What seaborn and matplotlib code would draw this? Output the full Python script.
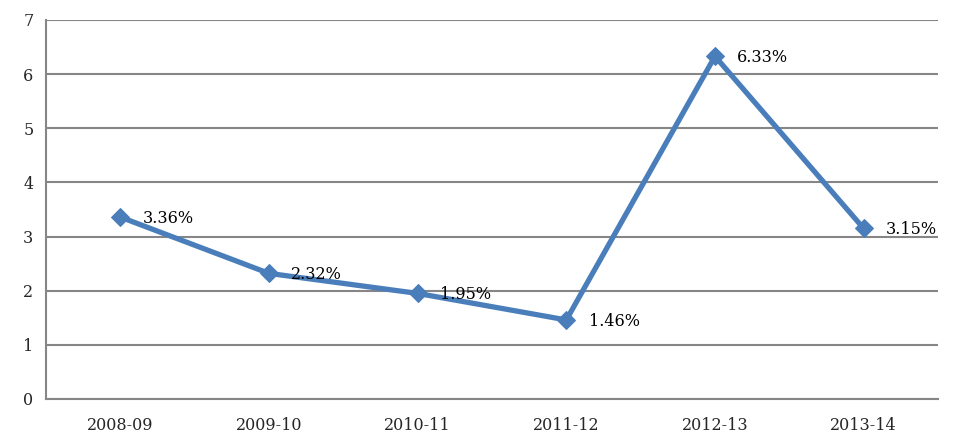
import matplotlib
matplotlib.use("Agg")
import matplotlib.pyplot as plt
import seaborn as sns
import pandas as pd

categories = ["2008-09", "2009-10", "2010-11", "2011-12", "2012-13", "2013-14"]
values = [3.36, 2.32, 1.95, 1.46, 6.33, 3.15]
labels = ["3.36%", "2.32%", "1.95%", "1.46%", "6.33%", "3.15%"]
yticks = [0, 1, 2, 3, 4, 5, 6, 7]

sns.set_style("white")
plt.rcParams['font.family'] = ['DejaVu Serif']

df = pd.DataFrame({"cat": categories, "val": values, "x": range(len(categories))})

fig = plt.figure(figsize=(9.64, 4.47), dpi=100)
ax = fig.add_axes([0.0477, 0.1074, 0.9253, 0.8479])

line_color = "#4A7EBB"
grid_color = "#868686"
fs = 11.5

sns.lineplot(data=df, x="x", y="val", ax=ax, color=line_color, linewidth=3.8,
             marker="D", markersize=9, markeredgecolor=line_color, markerfacecolor=line_color,
             zorder=3)

for xi, v, lab in zip(df["x"], values, labels):
    ax.annotate(lab, (xi, v), xytext=(16, -1), textcoords="offset points",
                ha="left", va="center", fontsize=fs, color="black", zorder=4)

ax.set_xlim(-0.5, len(categories) - 0.5)
ax.set_ylim(0, 7)
ax.set_yticks(yticks)
ax.set_yticklabels([str(t) for t in yticks], fontsize=fs)
ax.set_xticks(range(len(categories)))
ax.set_xticklabels(categories, fontsize=fs)
ax.tick_params(axis="x", which="major", length=0, pad=13)
ax.set_xticks([i - 0.5 for i in range(len(categories) + 1)], minor=True)
ax.tick_params(axis="x", which="minor", length=5, width=1.5, color=grid_color, direction="out")
ax.tick_params(axis="y", length=5, width=1.5, color=grid_color, direction="out", pad=4)

ax.grid(axis="y", color=grid_color, linewidth=1.5)
ax.set_axisbelow(True)
ax.set_xlabel("")
ax.set_ylabel("")
for s in ["top", "right"]:
    ax.spines[s].set_visible(False)
for s in ["left", "bottom"]:
    ax.spines[s].set_color(grid_color)
    ax.spines[s].set_linewidth(1.5)

fig.savefig("out.png", dpi=100)
